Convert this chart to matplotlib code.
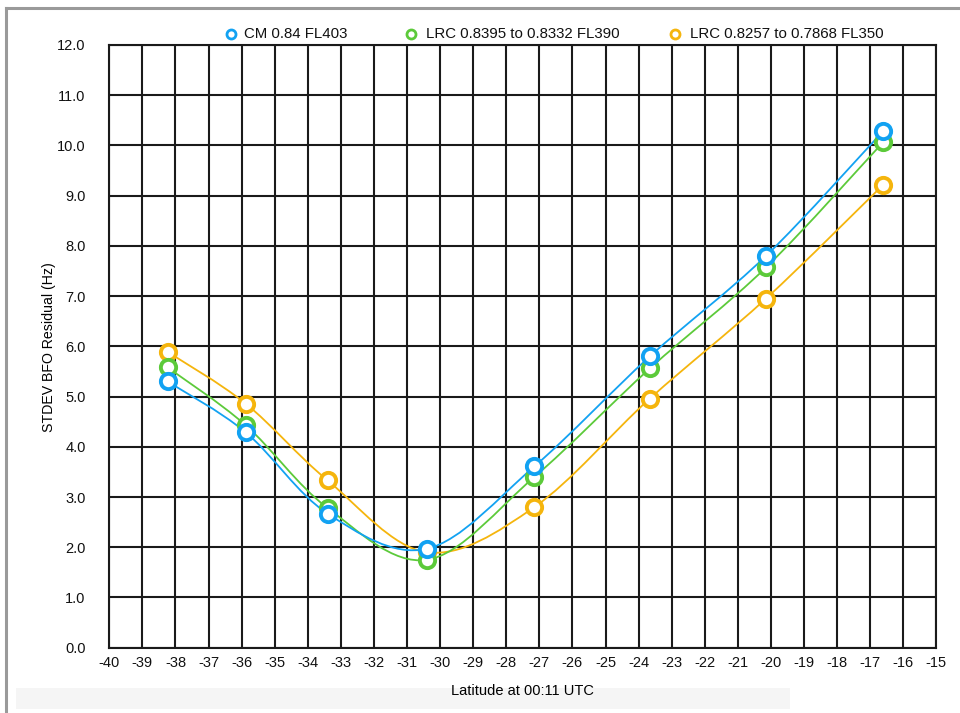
import numpy as np
import matplotlib
matplotlib.use("Agg")
import matplotlib.pyplot as plt
from matplotlib.path import Path
from matplotlib.patches import PathPatch, Rectangle
from matplotlib.lines import Line2D

plt.rcParams['font.family'] = ['Liberation Sans', 'DejaVu Sans']

# latitude of each end point at 00:11 UTC
latitude = [-38.24, -35.88, -33.40, -30.40, -27.15, -23.66, -20.15, -16.60]

cm_fl403 = [5.30, 4.29, 2.67, 1.97, 3.61, 5.80, 7.80, 10.29]
lrc_fl390 = [5.58, 4.43, 2.78, 1.75, 3.40, 5.56, 7.57, 10.07]
lrc_fl350 = [5.89, 4.86, 3.33, 1.90, 2.80, 4.96, 6.95, 9.22]

series_names = ["CM 0.84 FL403", "LRC 0.8395 to 0.8332 FL390", "LRC 0.8257 to 0.7868 FL350"]
series_colors = ["#12a2f2", "#5cca3a", "#f5b50d"]

x_ticks = list(range(-40, -14))
y_ticks = [0.0, 1.0, 2.0, 3.0, 4.0, 5.0, 6.0, 7.0, 8.0, 9.0, 10.0, 11.0, 12.0]

W, H = 960, 713


def smooth_path(xs, ys):
    # catmull-rom through the points, written as cubic bezier segments
    pts = np.column_stack([xs, ys]).astype(float)
    ext = np.vstack([pts[0], pts, pts[-1]])
    verts = [pts[0]]
    codes = [Path.MOVETO]
    for i in range(len(pts) - 1):
        p0, p1, p2, p3 = ext[i], ext[i + 1], ext[i + 2], ext[i + 3]
        c1 = p1 + (p2 - p0) / 6.0
        c2 = p2 - (p3 - p1) / 6.0
        verts += [c1, c2, p2]
        codes += [Path.CURVE4] * 3
    return Path(verts, codes)


fig = plt.figure(figsize=(W / 100, H / 100), dpi=100)
ax = fig.add_axes([0.1139, 0.0916, 0.8614, 0.8453])

ax.set_xlim(-40, -15)
ax.set_ylim(0, 12)
ax.set_xticks(x_ticks)
ax.set_xticklabels([str(t) for t in x_ticks])
ax.set_yticks(y_ticks)
ax.set_yticklabels(["%.1f" % t for t in y_ticks])
ax.tick_params(length=0, labelsize=10.5, colors="#111111")
ax.tick_params(axis="y", pad=17)
ax.tick_params(axis="x", pad=6)
ax.grid(True, color="#1a1a1a", linewidth=1.5)
ax.set_axisbelow(True)
for s in ax.spines.values():
    s.set_color("#1a1a1a")
    s.set_linewidth(1.5)

ax.set_xlabel("Latitude at 00:11 UTC", fontsize=10.5)
ax.set_ylabel("STDEV BFO Residual (Hz)", fontsize=10.2)
ax.xaxis.set_label_coords(0.5, -0.061)
ax.yaxis.set_label_coords(-0.065, 0.499)

series = [cm_fl403, lrc_fl390, lrc_fl350]
# draw slowest first so the CM markers sit on top
for idx in [2, 1, 0]:
    vals = series[idx]
    col = series_colors[idx]
    ax.add_patch(PathPatch(smooth_path(latitude, vals), facecolor="none",
                           edgecolor=col, linewidth=1.3, zorder=3 + (2 - idx) * 0.1))
    ax.plot(latitude, vals, linestyle="none", marker="o", markersize=11,
            markeredgewidth=2.8, markerfacecolor="white", markeredgecolor=col,
            zorder=4 + (2 - idx) * 0.1, clip_on=False)

# legend row across the top
key_marker_x = [231, 410.5, 674.5]
key_text_cx = [296, 523, 787]
key_y = 1 - 34 / H
for idx in range(3):
    fig.add_artist(Line2D([key_marker_x[idx] / W], [key_y], transform=fig.transFigure,
                          linestyle="none", marker="o", markersize=6.5, markeredgewidth=2.0,
                          markerfacecolor="white", markeredgecolor=series_colors[idx]))
    fig.text(key_text_cx[idx] / W, key_y, series_names[idx], fontsize=10.8,
             ha="center", va="center", color="#111111")

# window border and bottom band
fig.add_artist(Line2D([6 / W, 6 / W], [0, 1 - 8 / H], transform=fig.transFigure,
                      color="#9a9a9a", linewidth=2.2))
fig.add_artist(Line2D([6 / W, 1], [1 - 8 / H, 1 - 8 / H], transform=fig.transFigure,
                      color="#9a9a9a", linewidth=2.2))
fig.add_artist(Rectangle((16 / W, 4 / H), 774 / W, 21 / H, transform=fig.transFigure,
                         facecolor="#f5f5f5", edgecolor="none", zorder=-1))

fig.savefig("out.png", dpi=100)
